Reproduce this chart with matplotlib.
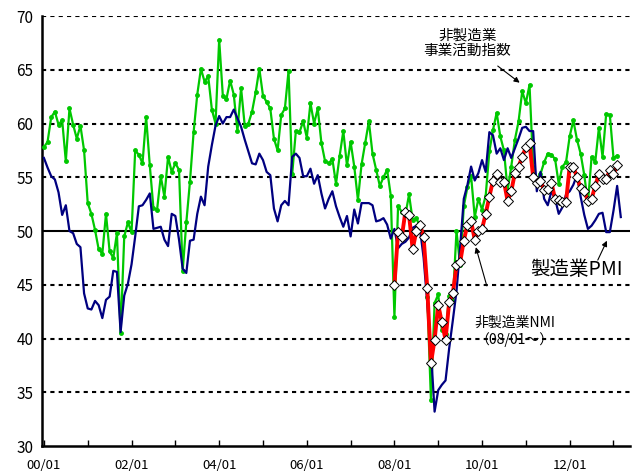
import matplotlib
matplotlib.use("Agg")
import matplotlib.pyplot as plt
import numpy as np

plt.rcParams["font.family"] = ["Noto Sans CJK JP", "DejaVu Sans"]

# 月次データ 2000/01 ～ 2013/03
pmi = [56.8, 55.9, 55.1, 54.8, 53.6, 51.5, 52.4, 50.0, 49.8, 48.8, 48.5, 44.2,
       42.8, 42.7, 43.5, 43.1, 41.9, 43.6, 43.9, 46.3, 46.2, 40.6, 44.0, 45.1,
       46.9, 49.5, 52.3, 52.4, 52.9, 53.5, 50.2, 50.3, 50.4, 49.2, 48.6, 51.6,
       51.4, 49.2, 46.5, 46.1, 49.1, 49.2, 51.6, 53.2, 52.4, 56.0, 58.0, 59.8,
       60.7, 60.0, 60.6, 60.6, 61.3, 60.5, 59.7, 58.5, 57.4, 56.3, 56.2, 57.2,
       56.6, 55.5, 55.2, 52.1, 50.9, 52.4, 52.8, 52.4, 56.9, 57.2, 56.8, 55.1,
       55.1, 55.8, 54.4, 55.2, 53.5, 52.1, 53.0, 53.7, 52.3, 51.3, 50.4, 51.4,
       49.5, 52.0, 50.7, 52.6, 52.6, 52.6, 52.4, 50.9, 51.0, 51.2, 50.6, 49.3,
       50.2, 48.4, 48.8, 49.0, 49.4, 50.3, 50.5, 50.2, 47.5, 43.3, 38.9, 33.2,
       35.2, 35.7, 36.1, 39.1, 41.7, 44.4, 48.5, 53.0, 54.3, 56.0, 54.7, 55.4,
       56.6, 55.5, 59.2, 58.9, 57.2, 57.7, 56.6, 57.7, 56.8, 57.7, 58.6, 59.6,
       59.7, 59.3, 59.3, 53.7, 55.5, 53.0, 52.4, 53.7, 53.0, 51.6, 52.2, 53.4,
       53.7, 54.3, 55.2, 53.2, 51.5, 50.2, 50.5, 51.0, 51.6, 51.7, 49.9, 49.9,
       51.9, 54.2, 51.3]

# 非製造業 事業活動指数 2000/01 ～ 2013/02
activity = [57.8, 58.3, 60.6, 61.1, 59.9, 60.3, 56.5, 61.4, 59.9, 58.6, 59.8, 57.5,
            52.6, 51.6, 50.1, 48.3, 47.9, 51.6, 48.1, 47.5, 49.8, 40.5, 49.5, 50.8,
            49.9, 57.5, 57.1, 56.3, 60.6, 56.1, 52.1, 52.0, 55.1, 53.2, 56.9, 55.5,
            56.3, 55.7, 46.3, 50.8, 54.6, 59.2, 62.7, 65.1, 63.9, 64.4, 61.3, 60.0,
            67.8, 62.6, 62.3, 64.0, 62.7, 59.3, 63.3, 59.8, 60.0, 61.1, 62.9, 65.1,
            62.6, 62.0, 61.4, 58.6, 57.5, 60.8, 61.4, 64.9, 55.3, 59.3, 59.2, 60.2,
            58.7, 61.9, 60.0, 61.4, 58.2, 56.5, 56.3, 56.7, 54.4, 57.0, 59.3, 56.1,
            58.3, 56.0, 52.9, 56.2, 58.2, 60.2, 57.2, 55.7, 54.2, 55.0, 55.7, 53.3,
            42.0, 52.3, 51.8, 51.5, 53.4, 51.0, 51.2, 50.4, 49.5, 43.9, 34.3, 43.3,
            44.1, 40.8, 40.4, 44.0, 43.5, 50.0, 46.8, 52.3, 54.1, 55.1, 51.3, 53.0,
            52.0, 53.3, 57.4, 59.4, 61.0, 58.8, 57.5, 53.8, 56.0, 58.5, 60.2, 63.0,
            61.9, 63.6, 56.0, 54.6, 55.3, 56.4, 57.2, 57.1, 56.7, 54.4, 56.0, 56.4,
            58.8, 60.3, 58.5, 57.2, 55.2, 52.6, 56.9, 56.4, 59.6, 56.9, 60.9, 60.8,
            56.8, 57.0]

# 非製造業NMI 2008/01 ～ 2013/02
nmi = [45.0, 49.9, 49.4, 51.8, 51.5, 48.3, 50.0, 50.6, 49.4, 44.7, 37.7, 39.9,
       43.1, 41.5, 39.9, 43.4, 44.2, 46.8, 47.1, 49.1, 50.6, 50.9, 49.2, 50.0,
       50.2, 51.6, 53.2, 54.7, 55.3, 54.6, 54.6, 52.8, 53.7, 55.4, 56.0, 56.9,
       57.8, 58.2, 55.0, 54.5, 54.7, 53.8, 53.9, 54.5, 53.0, 52.9, 52.7, 52.7,
       56.0, 56.0, 55.0, 54.0, 53.7, 52.8, 53.0, 54.2, 55.3, 54.8, 54.8, 55.7,
       55.3, 56.1]
nmi_start = 96  # 08/01

xlabels = ["00/01", "02/01", "04/01", "06/01", "08/01", "10/01", "12/01"]

fig = plt.figure(figsize=(6.35, 4.72), dpi=100)
ax = fig.add_axes([0.066, 0.055, 0.926, 0.911])

x_pmi = np.arange(len(pmi))
x_act = np.arange(len(activity))
x_nmi = np.arange(len(nmi)) + nmi_start

# 目盛線
for v in [35, 40, 45, 55, 60, 65, 70]:
    ax.axhline(v, color="black", lw=1.5, ls=(0, (2, 2)), zorder=1)
ax.axhline(50, color="black", lw=1.5, zorder=1)

ax.plot(x_act, activity, color="#00C800", lw=1.6, marker="o", ms=2.5, zorder=3)
ax.plot(x_pmi, pmi, color="#000080", lw=1.6, zorder=4)
ax.plot(x_nmi, nmi, color="#FF0000", lw=2.8, marker="D", ms=5.5,
        mfc="white", mec="black", mew=0.7, zorder=5)

ax.set_xlim(-0.55, 160.5)
ax.set_ylim(30, 70)
ax.set_yticks(range(30, 71, 5))
ax.set_xticks(range(0, 160, 12))
ax.set_xticklabels([xlabels[i // 2] if i % 2 == 0 else "" for i in range(14)])
ax.tick_params(axis="x", direction="in", length=4, width=1, labelsize=9.5, pad=9)
ax.tick_params(axis="y", length=0, labelsize=11, pad=6)
for s in ["top", "right"]:
    ax.spines[s].set_visible(False)
for s in ["left", "bottom"]:
    ax.spines[s].set_linewidth(1.8)

# 注記
arrow = dict(arrowstyle="-|>", color="black", lw=0.8, mutation_scale=8,
             shrinkA=0, shrinkB=0)
ax.text(116, 66.1, "非製造業\n事業活動指数", ha="center", va="bottom",
        fontsize=10.5, linespacing=1.15)
ax.annotate("", xy=(130.3, 63.8), xytext=(124.3, 65.35), arrowprops=arrow)

ax.text(146, 46.4, "製造業PMI", ha="center", va="center", fontsize=14)
ax.annotate("", xy=(154.2, 49.1), xytext=(151.7, 47.3), arrowprops=arrow)

ax.text(129, 40.7, "非製造業NMI\n（08/01～）", ha="center", va="center",
        fontsize=10, linespacing=1.2)
ax.annotate("", xy=(118.3, 48.5), xytext=(121.3, 44.9), arrowprops=arrow)

fig.savefig("out.png", dpi=100)
